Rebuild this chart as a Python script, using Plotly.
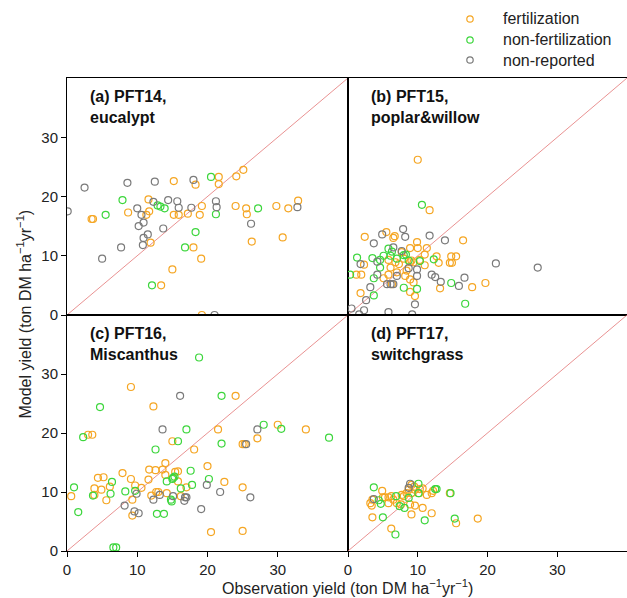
import plotly.graph_objects as go
from plotly.subplots import make_subplots

# ---------------- data (observation, model) ----------------
# Panel (a) PFT14 eucalypt
a_fert_obs = [3.5, 3.7, 8.7, 11.6, 11.7, 11.3, 15.2, 18.3, 15.2, 15.9, 17.2, 18.9, 19.2, 21.6, 21.6, 24.1, 25.1, 24.0, 25.5, 25.6, 29.8, 31.5, 32.9, 11.9, 18.0, 26.3, 30.7, 19.1, 15.0, 13.4, 19.2]
a_fert_mod = [16.2, 16.2, 17.3, 19.5, 17.5, 16.9, 22.6, 22.0, 16.9, 16.9, 17.1, 16.9, 18.4, 23.3, 22.1, 23.4, 24.5, 18.4, 18.0, 17.0, 18.4, 18.0, 19.3, 12.2, 11.4, 12.4, 13.1, 9.5, 7.7, 5.0, 0.0]
a_nonf_obs = [5.5, 7.9, 12.9, 13.3, 13.9, 20.5, 21.2, 27.2, 18.3, 16.8, 12.1]
a_nonf_mod = [16.9, 19.4, 18.5, 18.3, 18.0, 23.3, 17.0, 18.0, 14.0, 11.4, 5.0]
a_nrep_obs = [0.1, 2.5, 8.6, 12.5, 18.0, 14.4, 15.7, 15.9, 12.3, 10.0, 10.6, 10.9, 10.2, 11.5, 10.9, 10.8, 13.7, 7.7, 5.0, 17.7, 21.2, 21.3, 26.2, 32.8, 21.0]
a_nrep_mod = [17.5, 21.5, 22.3, 22.5, 22.8, 19.4, 19.2, 18.1, 19.1, 18.0, 16.9, 15.6, 15.0, 13.6, 13.0, 11.8, 14.6, 11.4, 9.5, 18.1, 19.2, 18.2, 15.4, 18.2, 0.0]

# Panel (b) PFT15 poplar & willow
b_fert_obs = [10.0, 11.7, 2.4, 5.5, 6.5, 6.7, 9.9, 10.0, 11.3, 8.9, 16.5, 12.7, 13.0, 14.8, 15.5, 14.6, 14.9, 11.0, 10.3, 9.1, 9.4, 8.9, 8.0, 6.8, 6.1, 7.0, 5.8, 8.2, 8.9, 9.4, 9.6, 8.9, 5.1, 1.2, 1.9, 1.8, 2.3, 11.0, 13.2, 17.8, 19.7, 7.7, 5.8, 7.3, 8.4, 6.3]
b_fert_mod = [26.2, 17.7, 13.2, 14.0, 13.0, 13.3, 12.3, 11.3, 11.3, 11.3, 12.6, 9.9, 8.8, 9.9, 9.9, 8.8, 8.8, 10.2, 9.3, 9.2, 8.9, 8.9, 9.5, 8.9, 8.0, 7.2, 6.8, 6.6, 6.0, 5.5, 3.2, 3.9, 6.2, 6.8, 6.8, 3.7, 8.5, 8.4, 4.5, 4.7, 5.4, 10.6, 9.3, 8.6, 7.5, 5.2]
b_nonf_obs = [10.6, 1.3, 0.3, 3.5, 4.6, 5.1, 5.8, 6.3, 8.0, 8.3, 7.0, 6.1, 10.3, 12.3, 3.7, 14.8, 16.8, 8.0, 9.9, 3.7, 4.6, 8.7]
b_nonf_mod = [18.6, 9.7, 6.8, 9.6, 9.3, 10.0, 11.2, 10.7, 10.1, 10.2, 9.5, 10.0, 9.1, 9.4, 6.2, 5.4, 1.9, 4.6, 4.4, 3.3, 8.0, 9.2]
b_nrep_obs = [7.9, 8.2, 11.7, 13.9, 3.7, 4.9, 6.5, 7.7, 1.8, 4.2, 21.2, 27.2, 9.9, 9.9, 12.0, 12.5, 13.3, 16.7, 15.9, 4.2, 5.6, 6.1, 6.5, 3.2, 2.6, 0.5, 1.6, 2.3, 5.8, 9.2, 9.6, 7.0, 8.7]
b_nrep_mod = [14.5, 13.2, 13.4, 12.6, 12.1, 13.6, 11.4, 10.8, 8.6, 9.0, 8.7, 8.0, 7.7, 6.6, 6.8, 6.4, 5.6, 6.3, 4.9, 6.8, 5.2, 5.2, 5.2, 4.7, 2.5, 1.1, 0.1, 0.8, 0.5, 0.1, 1.8, 6.6, 7.9]

# Panel (c) PFT16 Miscanthus
c_fert_obs = [3.0, 3.6, 9.1, 12.3, 24.0, 21.5, 30.0, 34.0, 27.1, 25.0, 25.3, 15.0, 18.1, 20.0, 14.0, 11.7, 12.6, 13.6, 15.4, 15.8, 14.0, 7.9, 9.1, 11.6, 4.4, 5.2, 3.9, 4.9, 6.1, 0.6, 3.9, 5.6, 9.7, 10.6, 12.7, 13.0, 12.0, 9.3, 15.8, 17.0, 16.2, 22.4, 25.0, 9.3, 20.5, 25.0, 14.2]
c_fert_mod = [19.7, 19.7, 27.8, 24.5, 26.3, 20.6, 21.4, 20.6, 19.1, 18.1, 18.1, 18.6, 17.2, 14.4, 14.9, 13.8, 13.7, 13.8, 13.4, 13.5, 12.9, 13.2, 12.2, 12.1, 12.4, 12.5, 10.6, 10.4, 10.9, 9.3, 9.5, 8.6, 11.1, 10.7, 10.0, 10.0, 9.4, 8.7, 11.8, 10.8, 9.3, 11.7, 10.8, 6.0, 3.2, 3.4, 9.8]
c_nonf_obs = [18.8, 22.0, 4.7, 2.3, 17.0, 15.8, 28.0, 30.5, 37.3, 22.0, 12.6, 17.6, 20.2, 17.8, 15.1, 15.3, 15.0, 14.2, 16.2, 6.4, 6.2, 3.7, 1.0, 1.6, 8.3, 9.7, 14.8, 14.9, 12.8, 13.8, 6.6, 7.0]
c_nonf_mod = [32.8, 26.3, 24.4, 19.3, 20.6, 18.6, 21.4, 20.7, 19.2, 18.2, 17.2, 13.6, 12.2, 11.2, 12.4, 12.6, 12.2, 11.8, 10.6, 11.7, 9.7, 9.4, 10.8, 6.6, 10.1, 10.2, 8.7, 8.4, 6.3, 6.3, 0.6, 0.6]
c_nrep_obs = [16.1, 13.6, 27.1, 25.5, 19.9, 21.8, 26.1, 9.9, 13.2, 12.3, 15.1, 16.8, 17.0, 16.7, 8.2, 9.6, 10.2, 19.1]
c_nrep_mod = [26.3, 20.6, 20.6, 18.1, 11.2, 10.0, 9.1, 9.7, 9.5, 8.7, 9.3, 9.1, 9.1, 8.5, 7.7, 6.7, 6.4, 7.1]

# Panel (d) PFT17 switchgrass
d_fert_obs = [3.5, 3.2, 3.4, 4.9, 5.0, 5.3, 5.8, 6.2, 7.0, 8.0, 7.7, 7.6, 8.4, 8.7, 9.1, 9.5, 9.1, 9.6, 10.3, 10.7, 11.3, 12.0, 12.2, 14.6, 8.9, 9.6, 10.7, 9.1, 12.0, 3.5, 6.2, 15.5, 18.6, 5.8, 6.5, 10.2]
d_fert_mod = [8.7, 8.1, 7.7, 10.2, 9.1, 9.1, 9.1, 9.3, 8.1, 9.3, 9.5, 7.9, 9.8, 10.4, 11.2, 10.9, 9.8, 10.4, 10.5, 10.6, 9.5, 9.8, 10.2, 9.8, 7.9, 7.7, 7.3, 6.2, 6.4, 5.7, 3.8, 4.7, 5.5, 8.1, 8.7, 9.8]
d_nonf_obs = [3.7, 4.4, 4.7, 5.0, 6.8, 6.9, 7.4, 8.1, 10.1, 10.1, 12.5, 12.7, 14.7, 11.0, 15.3, 8.7]
d_nonf_mod = [10.8, 8.6, 8.0, 5.7, 2.8, 9.3, 7.6, 7.3, 11.4, 9.8, 10.5, 10.5, 9.8, 5.2, 5.5, 9.0]
d_nrep_obs = [8.7, 8.9, 3.7]
d_nrep_mod = [10.7, 11.4, 8.8]

panel_titles = ["(a) PFT14,<br>eucalypt", "(b) PFT15,<br>poplar&amp;willow",
                "(c) PFT16,<br>Miscanthus", "(d) PFT17,<br>switchgrass"]
group_names = ["fertilization", "non-fertilization", "non-reported"]
tick_values = [0, 10, 20, 30]
axis_range = [0, 40]

# ---------------- styling ----------------
colors = ["#F5A623", "#3CD63C", "#7A7A7A"]
font_family = "Liberation Sans, Arial, sans-serif"

panels = [
    [(a_fert_obs, a_fert_mod), (a_nonf_obs, a_nonf_mod), (a_nrep_obs, a_nrep_mod)],
    [(b_fert_obs, b_fert_mod), (b_nonf_obs, b_nonf_mod), (b_nrep_obs, b_nrep_mod)],
    [(c_fert_obs, c_fert_mod), (c_nonf_obs, c_nonf_mod), (c_nrep_obs, c_nrep_mod)],
    [(d_fert_obs, d_fert_mod), (d_nonf_obs, d_nonf_mod), (d_nrep_obs, d_nrep_mod)],
]
positions = [(1, 1), (1, 2), (2, 1), (2, 2)]

fig = make_subplots(rows=2, cols=2, horizontal_spacing=0, vertical_spacing=0)

for pi, (series, (r, c)) in enumerate(zip(panels, positions)):
    # 1:1 line
    fig.add_trace(go.Scatter(x=axis_range, y=axis_range, mode="lines",
                             line=dict(color="rgba(225,110,110,0.75)", width=1),
                             showlegend=False, hoverinfo="skip"), row=r, col=c)
    for gi, (xs, ys) in enumerate(series):
        fig.add_trace(go.Scatter(
            x=xs, y=ys, mode="markers", name=group_names[gi],
            legendgroup=group_names[gi], showlegend=False,
            marker=dict(symbol="circle-open", size=7, color=colors[gi],
                        line=dict(width=1.2, color=colors[gi]))),
            row=r, col=c)

# domains (in paper fractions, figure 627x598, no margins)
W, H = 627.0, 598.0
xl = [67 / W, 348 / W]
xr = [348 / W, 1.0]
yt = [(H - 315) / H, (H - 78) / H]
yb = [(H - 551) / H, (H - 315) / H]
doms = [(xl, yt), (xr, yt), (xl, yb), (xr, yb)]

for i, ((xd, yd), (r, c)) in enumerate(zip(doms, positions)):
    show_x = (r == 2)
    show_y = (c == 1)
    fig.update_xaxes(domain=xd, range=axis_range, tickvals=tick_values, automargin=False,
                     showticklabels=show_x, ticks="outside" if show_x else "",
                     ticklen=5, tickcolor="black", showgrid=False, zeroline=False,
                     showline=True, mirror=True, linecolor="black", linewidth=1,
                     tickfont=dict(size=15, color="#222", family=font_family),
                     row=r, col=c)
    fig.update_yaxes(domain=yd, range=axis_range, tickvals=tick_values, automargin=False,
                     showticklabels=show_y, ticks="outside" if show_y else "",
                     ticklen=5, tickcolor="black", showgrid=False, zeroline=False,
                     showline=True, mirror=True, linecolor="black", linewidth=1,
                     tickfont=dict(size=15, color="#222", family=font_family),
                     row=r, col=c)

# panel labels
axis_names = [("x", "y"), ("x2", "y2"), ("x3", "y3"), ("x4", "y4")]
for (xa, ya), txt in zip(axis_names, panel_titles):
    fig.add_annotation(text="<b>" + txt + "</b>", xref=xa + " domain", yref=ya + " domain",
                       x=0.075, y=0.965, xanchor="left", yanchor="top", align="left",
                       showarrow=False, font=dict(size=16, color="#111", family=font_family))

# axis titles
fig.add_annotation(text="Observation yield (ton DM ha<sup>−1</sup>yr<sup>−1</sup>)",
                   xref="paper", yref="paper", x=347 / W, y=1 - 587 / H,
                   xanchor="center", yanchor="middle", showarrow=False,
                   font=dict(size=16, color="#222", family=font_family))
fig.add_annotation(text="Model yield (ton DM ha<sup>−1</sup>yr<sup>−1</sup>)",
                   xref="paper", yref="paper", x=24 / W, y=1 - 314.5 / H,
                   xanchor="center", yanchor="middle", textangle=-90, showarrow=False,
                   font=dict(size=16, color="#222", family=font_family))

# manual legend (marker circles + labels) at top right
legend_y = [19, 40, 60]
for gi, name in enumerate(group_names):
    cy = 1 - legend_y[gi] / H
    r_px = 3.2
    fig.add_shape(type="circle", xref="paper", yref="paper",
                  x0=(470 - r_px) / W, x1=(470 + r_px) / W,
                  y0=cy - r_px / H, y1=cy + r_px / H,
                  line=dict(color=colors[gi], width=1.2))
    fig.add_annotation(text=name, xref="paper", yref="paper", x=501 / W, y=cy,
                       xanchor="left", yanchor="middle", showarrow=False,
                       font=dict(size=16, color="#222", family=font_family))

fig.update_layout(
    width=627, height=598,
    margin=dict(l=0, r=0, t=0, b=0, autoexpand=False),
    paper_bgcolor="white", plot_bgcolor="white",
    showlegend=False,
    font=dict(family=font_family),
)

fig.write_html("out.html",
               config={"displayModeBar": False},
               post_script="document.documentElement.style.margin='0';"
                           "document.body.style.margin='0';"
                           "document.body.style.padding='0';"
                           "document.body.style.overflow='hidden';")
